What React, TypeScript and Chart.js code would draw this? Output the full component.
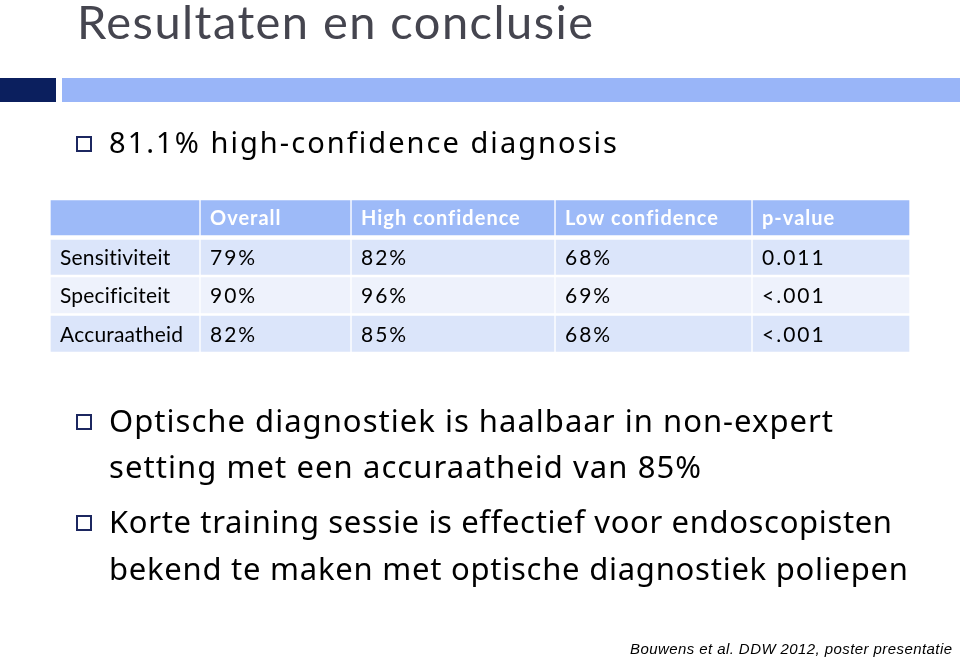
import React, { useEffect, useRef } from "react";
import { Chart, registerables } from "chart.js";

Chart.register(...registerables);

// ---- data ----
const columnHeaders = ["", "Overall", "High confidence", "Low confidence", "p-value"];
const metrics = ["Sensitiviteit", "Specificiteit", "Accuraatheid"];
const overall = [79, 90, 82];
const highConfidence = [82, 96, 85];
const lowConfidence = [68, 69, 68];
const pValues = ["0.011", "<.001", "<.001"];

const title = "Resultaten en conclusie";
const bullet1 = "81.1% high-confidence diagnosis";
const bullet2 = ["Optische diagnostiek is haalbaar in non-expert", "setting met een accuraatheid van 85%"];
const bullet3 = ["Korte training sessie is effectief voor endoscopisten", "bekend te maken met optische diagnostiek poliepen"];
const footer = "Bouwens et al. DDW 2012, poster presentatie";

// ---- layout / style (not data) ----
const colWidths = [150, 151, 204, 197, 158];
const rowColors = ["#9dbaf8", "#dbe5fa", "#eef2fc", "#dbe5fa"];
const FONT = "Lato, 'Noto Sans', sans-serif";
const BODY_FONT = "'Noto Sans', Lato, sans-serif";

function cellText(row: number, col: number): string {
  if (row === 0) return columnHeaders[col];
  const r = row - 1;
  switch (col) {
    case 0: return metrics[r];
    case 1: return overall[r] + "%";
    case 2: return highConfidence[r] + "%";
    case 3: return lowConfidence[r] + "%";
    default: return pValues[r];
  }
}

function drawText(ctx: CanvasRenderingContext2D, text: string, x: number, y: number, width?: number, spacing?: number) {
  const anyCtx = ctx as any;
  let sp = spacing || 0;
  if (width !== undefined && text.length > 1) {
    if ("letterSpacing" in anyCtx) anyCtx.letterSpacing = "0px";
    const natural = ctx.measureText(text).width;
    sp = (width - natural) / (text.length - 1);
  }
  if ("letterSpacing" in anyCtx) {
    anyCtx.letterSpacing = sp + "px";
    ctx.fillText(text, x, y);
    anyCtx.letterSpacing = "0px";
  } else {
    let cx = x;
    for (const ch of text) {
      ctx.fillText(ch, cx, y);
      cx += ctx.measureText(ch).width + sp;
    }
  }
}

function bulletBox(ctx: CanvasRenderingContext2D, x: number, y: number) {
  ctx.save();
  ctx.strokeStyle = "#1c2760";
  ctx.lineWidth = 2;
  ctx.strokeRect(x + 1, y + 1, 14, 14);
  ctx.restore();
}

const slidePlugin = {
  id: "slide",
  beforeDraw(chart: any) {
    const ctx: CanvasRenderingContext2D = chart.ctx;
    ctx.save();
    ctx.fillStyle = "#ffffff";
    ctx.fillRect(0, 0, chart.width, chart.height);
    // header bars
    ctx.fillStyle = "#0b1f5e";
    ctx.fillRect(0, 78, 56, 24);
    ctx.fillStyle = "#99b5f8";
    ctx.fillRect(62, 78, 898, 24);
    // title
    ctx.textBaseline = "alphabetic";
    ctx.fillStyle = "#45454f";
    ctx.font = `47px ${FONT}`;
    drawText(ctx, title, 77, 39, 516);
    // bullets
    ctx.fillStyle = "#000000";
    ctx.font = `29px ${BODY_FONT}`;
    bulletBox(ctx, 76, 136);
    drawText(ctx, bullet1, 109, 153, 508);
    ctx.font = `31px ${BODY_FONT}`;
    bulletBox(ctx, 76, 414);
    drawText(ctx, bullet2[0], 109, 432, 724);
    drawText(ctx, bullet2[1], 109, 478, 592);
    bulletBox(ctx, 76, 515);
    drawText(ctx, bullet3[0], 109, 533, 783);
    drawText(ctx, bullet3[1], 109, 580, 799);
    // footer
    ctx.font = `italic 15px 'Liberation Sans', Arial, sans-serif`;
    drawText(ctx, footer, 630, 654, 322);
    ctx.restore();
  },
  afterDatasetsDraw(chart: any) {
    const ctx: CanvasRenderingContext2D = chart.ctx;
    ctx.save();
    ctx.textBaseline = "alphabetic";
    chart.data.datasets.forEach((_ds: any, di: number) => {
      const meta = chart.getDatasetMeta(di);
      meta.data.forEach((bar: any, ri: number) => {
        const p = bar.getProps(["x", "y", "base"], true);
        const left = Math.min(p.x, p.base);
        const txt = cellText(ri, di);
        if (!txt) return;
        if (ri === 0) {
          ctx.fillStyle = "#ffffff";
          ctx.font = `bold 20px ${FONT}`;
          drawText(ctx, txt, left + 10, p.y + 7, undefined, 1);
        } else {
          ctx.fillStyle = "#000000";
          ctx.font = `21px ${FONT}`;
          drawText(ctx, txt, left + 10, p.y + 8, undefined, di === 0 ? 0.2 : 2);
        }
      });
    });
    ctx.restore();
  },
};

export default function App() {
  const ref = useRef<HTMLCanvasElement>(null);
  useEffect(() => {
    document.body.style.margin = "0";
    const rows = ["header", ...metrics];
    const chart = new Chart(ref.current!, {
      type: "bar",
      data: {
        labels: rows,
        datasets: columnHeaders.map((h, ci) => ({
          label: h || "Metric",
          data: rows.map(() => colWidths[ci]),
          backgroundColor: rowColors,
          borderColor: "#ffffff",
          borderWidth: (c: any) => ({
            left: 1,
            right: 1,
            top: c.dataIndex === 1 ? 2.5 : 1.5,
            bottom: c.dataIndex === 0 ? 2.5 : 1.5,
          }),
          borderSkipped: false,
          barPercentage: 1,
          categoryPercentage: 1,
        })),
      } as any,
      options: {
        indexAxis: "y",
        animation: false,
        responsive: false,
        layout: { padding: { left: 50, right: 50, top: 199, bottom: 305 } },
        scales: {
          x: { type: "linear", stacked: true, min: 0, max: 860, display: false },
          y: { type: "category", stacked: true, display: false },
        },
        plugins: { legend: { display: false }, tooltip: { enabled: false } },
      } as any,
      plugins: [slidePlugin],
    });
    return () => chart.destroy();
  }, []);
  return (
    <div style={{ position: "fixed", left: 0, top: 0, width: 960, height: 658 }}>
      <canvas ref={ref} width={960} height={658} />
    </div>
  );
}
